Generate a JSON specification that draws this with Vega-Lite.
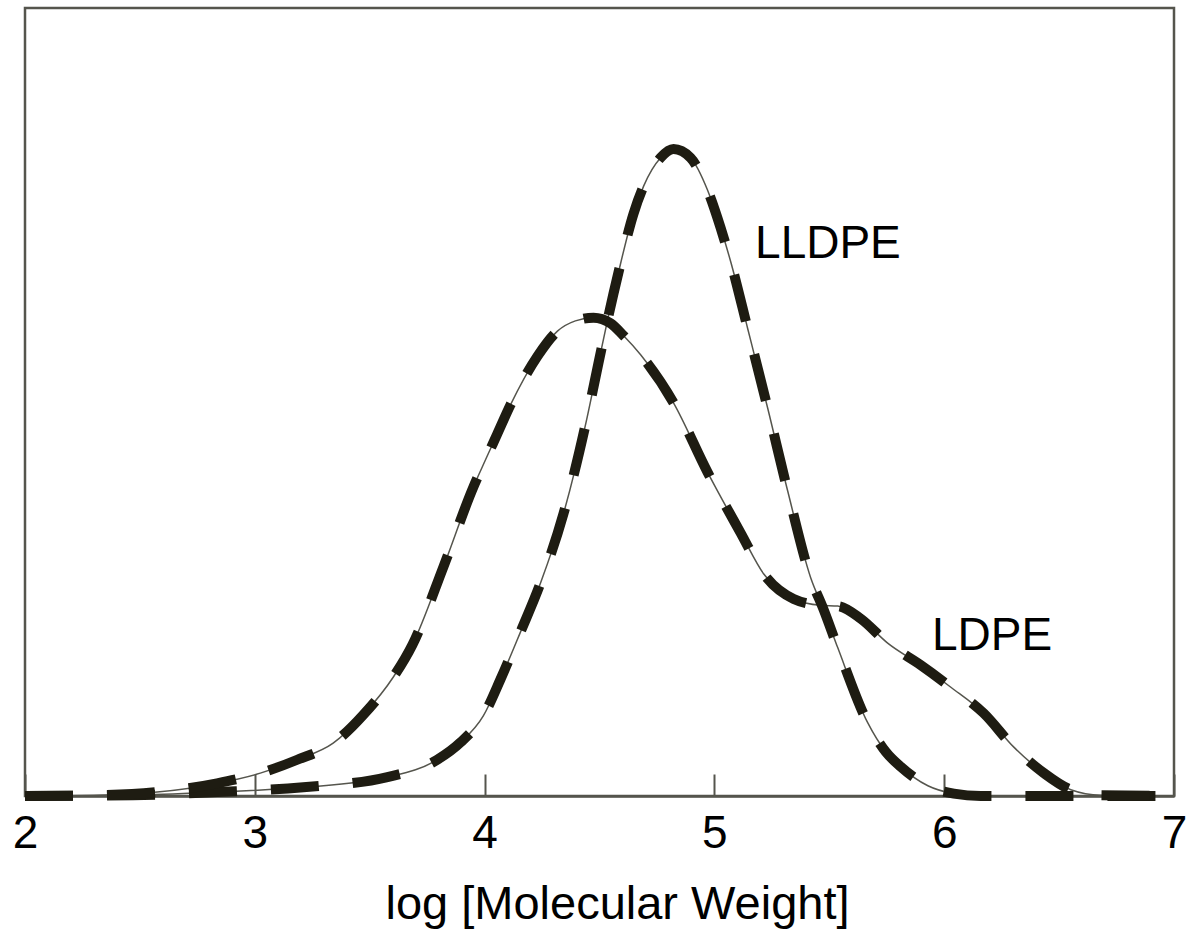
{
  "$schema": "https://vega.github.io/schema/vega-lite/v6.json",
  "width": 1149,
  "height": 788,
  "autosize": {"type": "none"},
  "padding": {"left": 25, "top": 8, "right": 15, "bottom": 138},
  "background": "white",
  "config": {
    "font": "Liberation Sans",
    "view": {"stroke": "#55554d", "strokeWidth": 2.5}
  },
  "datasets": {
    "gpc": [
      {"polymer": "LLDPE", "logM": 2.000, "w": 0},
      {"polymer": "LLDPE", "logM": 2.470, "w": 0.1},
      {"polymer": "LLDPE", "logM": 2.836, "w": 0.5},
      {"polymer": "LLDPE", "logM": 3.211, "w": 1.1},
      {"polymer": "LLDPE", "logM": 3.577, "w": 2.4},
      {"polymer": "LLDPE", "logM": 3.794, "w": 4.6},
      {"polymer": "LLDPE", "logM": 3.895, "w": 6.8},
      {"polymer": "LLDPE", "logM": 3.995, "w": 10.2},
      {"polymer": "LLDPE", "logM": 4.069, "w": 14.8},
      {"polymer": "LLDPE", "logM": 4.156, "w": 20.8},
      {"polymer": "LLDPE", "logM": 4.243, "w": 27.0},
      {"polymer": "LLDPE", "logM": 4.343, "w": 35.8},
      {"polymer": "LLDPE", "logM": 4.439, "w": 47.1},
      {"polymer": "LLDPE", "logM": 4.496, "w": 55.0},
      {"polymer": "LLDPE", "logM": 4.535, "w": 60.4},
      {"polymer": "LLDPE", "logM": 4.583, "w": 66.5},
      {"polymer": "LLDPE", "logM": 4.648, "w": 73.9},
      {"polymer": "LLDPE", "logM": 4.692, "w": 77.4},
      {"polymer": "LLDPE", "logM": 4.766, "w": 81.0},
      {"polymer": "LLDPE", "logM": 4.822, "w": 82.1},
      {"polymer": "LLDPE", "logM": 4.896, "w": 81.0},
      {"polymer": "LLDPE", "logM": 4.970, "w": 76.9},
      {"polymer": "LLDPE", "logM": 5.027, "w": 72.1},
      {"polymer": "LLDPE", "logM": 5.071, "w": 67.8},
      {"polymer": "LLDPE", "logM": 5.145, "w": 59.3},
      {"polymer": "LLDPE", "logM": 5.232, "w": 49.2},
      {"polymer": "LLDPE", "logM": 5.319, "w": 38.7},
      {"polymer": "LLDPE", "logM": 5.419, "w": 27.7},
      {"polymer": "LLDPE", "logM": 5.476, "w": 23.6},
      {"polymer": "LLDPE", "logM": 5.537, "w": 18.8},
      {"polymer": "LLDPE", "logM": 5.667, "w": 9.3},
      {"polymer": "LLDPE", "logM": 5.746, "w": 5.6},
      {"polymer": "LLDPE", "logM": 5.811, "w": 3.7},
      {"polymer": "LLDPE", "logM": 5.929, "w": 1.3},
      {"polymer": "LLDPE", "logM": 6.042, "w": 0.3},
      {"polymer": "LLDPE", "logM": 6.159, "w": 0},
      {"polymer": "LLDPE", "logM": 7.000, "w": 0},
      {"polymer": "LDPE", "logM": 2.000, "w": 0},
      {"polymer": "LDPE", "logM": 2.327, "w": 0.1},
      {"polymer": "LDPE", "logM": 2.575, "w": 0.5},
      {"polymer": "LDPE", "logM": 2.836, "w": 1.6},
      {"polymer": "LDPE", "logM": 3.024, "w": 2.9},
      {"polymer": "LDPE", "logM": 3.185, "w": 4.6},
      {"polymer": "LDPE", "logM": 3.341, "w": 6.7},
      {"polymer": "LDPE", "logM": 3.472, "w": 10.3},
      {"polymer": "LDPE", "logM": 3.603, "w": 15.1},
      {"polymer": "LDPE", "logM": 3.686, "w": 19.2},
      {"polymer": "LDPE", "logM": 3.821, "w": 29.1},
      {"polymer": "LDPE", "logM": 3.951, "w": 39.2},
      {"polymer": "LDPE", "logM": 4.003, "w": 42.6},
      {"polymer": "LDPE", "logM": 4.056, "w": 46.0},
      {"polymer": "LDPE", "logM": 4.112, "w": 49.6},
      {"polymer": "LDPE", "logM": 4.230, "w": 55.8},
      {"polymer": "LDPE", "logM": 4.317, "w": 59.0},
      {"polymer": "LDPE", "logM": 4.395, "w": 60.3},
      {"polymer": "LDPE", "logM": 4.474, "w": 60.7},
      {"polymer": "LDPE", "logM": 4.548, "w": 60.0},
      {"polymer": "LDPE", "logM": 4.605, "w": 58.4},
      {"polymer": "LDPE", "logM": 4.679, "w": 56.0},
      {"polymer": "LDPE", "logM": 4.822, "w": 49.9},
      {"polymer": "LDPE", "logM": 4.970, "w": 41.1},
      {"polymer": "LDPE", "logM": 5.114, "w": 33.4},
      {"polymer": "LDPE", "logM": 5.214, "w": 28.2},
      {"polymer": "LDPE", "logM": 5.345, "w": 25.0},
      {"polymer": "LDPE", "logM": 5.462, "w": 24.2},
      {"polymer": "LDPE", "logM": 5.537, "w": 24.1},
      {"polymer": "LDPE", "logM": 5.637, "w": 22.5},
      {"polymer": "LDPE", "logM": 5.754, "w": 19.4},
      {"polymer": "LDPE", "logM": 5.898, "w": 16.6},
      {"polymer": "LDPE", "logM": 6.029, "w": 13.8},
      {"polymer": "LDPE", "logM": 6.172, "w": 10.5},
      {"polymer": "LDPE", "logM": 6.303, "w": 6.2},
      {"polymer": "LDPE", "logM": 6.434, "w": 2.9},
      {"polymer": "LDPE", "logM": 6.551, "w": 0.8},
      {"polymer": "LDPE", "logM": 6.682, "w": 0.1},
      {"polymer": "LDPE", "logM": 7.000, "w": 0}
    ],
    "names": [
      {"label": "LLDPE", "logM": 5.494, "w": 70.0},
      {"label": "LDPE", "logM": 6.208, "w": 20.3}
    ]
  },
  "encoding": {
    "x": {
      "field": "logM",
      "type": "quantitative",
      "scale": {"domain": [2, 7], "nice": false, "zero": false},
      "axis": {
        "title": "log [Molecular Weight]",
        "values": [2, 3, 4, 5, 6, 7],
        "format": "d",
        "grid": false,
        "domainColor": "#55554d",
        "domainWidth": 2.5,
        "tickColor": "#55554d",
        "tickWidth": 2,
        "tickSize": -22,
        "labelFont": "Liberation Sans",
        "labelFontSize": 46,
        "labelColor": "black",
        "labelBaseline": "alphabetic",
        "labelPadding": 73,
        "labelFlush": false,
        "labelOverlap": false,
        "titleFont": "Liberation Sans",
        "titleFontSize": 47,
        "titleFontWeight": "normal",
        "titleColor": "black",
        "titleAlign": "center",
        "titleBaseline": "alphabetic",
        "titleX": 592,
        "titleY": 122
      }
    },
    "y": {
      "field": "w",
      "type": "quantitative",
      "scale": {"domain": [0, 100], "nice": false},
      "axis": null
    }
  },
  "layer": [
    {
      "data": {"name": "gpc"},
      "mark": {"type": "line", "interpolate": "monotone", "color": "#55554d", "strokeWidth": 1.5},
      "encoding": {"detail": {"field": "polymer"}}
    },
    {
      "data": {"name": "gpc"},
      "mark": {"type": "line", "interpolate": "monotone", "color": "#1e1c12", "strokeWidth": 10, "strokeDash": [48, 34], "strokeCap": "butt"},
      "encoding": {"detail": {"field": "polymer"}}
    },
    {
      "data": {"name": "names"},
      "mark": {"type": "text", "font": "Liberation Sans", "fontSize": 46, "color": "black", "align": "center", "baseline": "middle"},
      "encoding": {"text": {"field": "label"}}
    }
  ]
}
